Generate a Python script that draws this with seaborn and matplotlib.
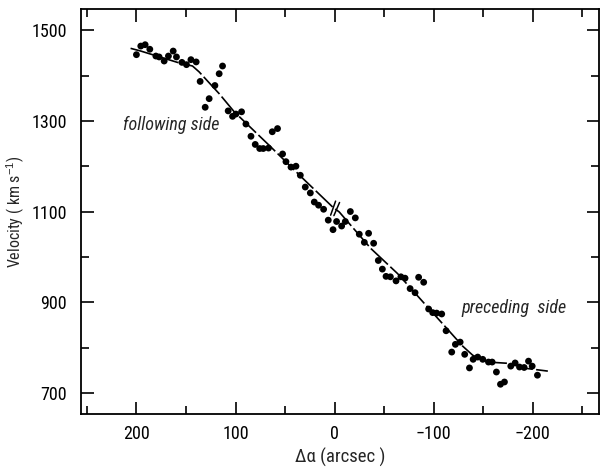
import matplotlib
matplotlib.use("Agg")
import matplotlib.pyplot as plt
import seaborn as sns
import pandas as pd
from matplotlib.ticker import MultipleLocator

# --- data ---
pos_x = [200, 195.6, 191.2, 186.5, 180.4, 177.1, 172, 167.7, 162.9, 159.6,
         154.1, 149.5, 145, 139.7, 135.7, 126.6, 130.6, 120.8, 116.5, 113.1,
         107.4, 103, 99.6, 93.9, 89.5, 84.4, 80.1, 75.6, 72, 66.7,
         62.9, 57.6, 52.5, 49.1, 44, 39, 34.6, 29.6, 24.5, 20.5,
         16.2, 11.1, 6.4, 1.6, -2, -7.1, -10.8, -15.9, -20.9, -24.9,
         -34.3, -30, -39.4, -44.1, -48.2, -51.9, -56.3, -62, -66.9, -71.1,
         -76.2, -81.2, -84.8, -89.9, -94.9, -99, -103, -108.1, -112.5, -121.9,
         -126.7, -118.2, -131.3, -136.1, -139.8, -144.4, -149.5, -155.3, -159, -163.3,
         -167.4, -171.4, -177.8, -182.2, -186.6, -191.3, -195.7, -199.4, -204.7]
velocity = [1446, 1465, 1468, 1458, 1443, 1441, 1432, 1443, 1454, 1441,
            1429, 1424, 1435, 1430, 1387, 1349, 1330, 1378, 1404, 1421,
            1322, 1310, 1315, 1320, 1293, 1266, 1248, 1239, 1239, 1240,
            1276, 1283, 1227, 1210, 1198, 1200, 1180, 1154, 1141, 1121,
            1114, 1105, 1081, 1060, 1078, 1068, 1078, 1100, 1086, 1050,
            1052, 1032, 1030, 992, 973, 957, 956, 947, 956, 953,
            930, 921, 955, 944, 885, 877, 876, 874, 837, 807,
            812, 790, 785, 755, 774, 779, 774, 768, 768, 746,
            719, 724, 759, 766, 757, 756, 770, 759, 739]

curve_x = [205.9, 195.6, 158.6, 143.4, 136.7, 116.5, 101.3, 66, 30.6, 2,
           -4.7, -36.8, -63.6, -92.3, -112.5, -129.3, -139.4, -154.5, -176.5, -193.3, -215.2]
curve_v = [1460, 1454, 1429, 1421, 1408, 1360, 1320, 1246, 1170, 1110,
           1099, 1018, 963, 893, 844, 803, 783, 768, 765, 754, 748]

# break mark "//" on the curve
break1_x = [4, -1]
break1_v = [1092, 1123]
break2_x = [0.7, -5]
break2_v = [1091, 1120]

x_ticks = [200, 100, 0, -100, -200]
y_ticks = [700, 900, 1100, 1300, 1500]

sns.set_theme(style="ticks")
fam = ['DejaVu Sans Condensed', 'Roboto Condensed', 'Liberation Sans Narrow',
       'Liberation Sans', 'DejaVu Sans']
plt.rcParams['font.family'] = fam
plt.rcParams['mathtext.fontset'] = 'custom'
plt.rcParams['mathtext.rm'] = 'Liberation Sans'
plt.rcParams['mathtext.it'] = 'Liberation Sans:italic'

fig = plt.figure(figsize=(6.04, 4.68), dpi=100)
ax = fig.add_axes([0.134, 0.115, 0.858, 0.866])

pts = pd.DataFrame({"x": pos_x, "v": velocity})
crv = pd.DataFrame({"x": curve_x, "v": curve_v})

sns.lineplot(data=crv, x="x", y="v", ax=ax, color="black", lw=1.2,
             sort=False, estimator=None)
ax.lines[-1].set_dashes((14, 2))
sns.scatterplot(data=pts, x="x", y="v", ax=ax, color="black", s=24,
                edgecolor="none", zorder=3)
ax.plot(break1_x, break1_v, color="black", lw=1.1)
ax.plot(break2_x, break2_v, color="black", lw=1.1)

ax.set_xlim(256, -267)
ax.set_ylim(653, 1547)
ax.set_xticks(x_ticks)
ax.set_yticks(y_ticks)
ax.xaxis.set_minor_locator(MultipleLocator(50))
ax.yaxis.set_minor_locator(MultipleLocator(100))
ax.set_xticklabels([str(t).replace('-', '\u2212') for t in x_ticks])
ax.tick_params(which="both", direction="in", top=True, right=True,
               labelsize=13, color="black", labelcolor="black", width=1.2)
ax.tick_params(which="major", length=9)
ax.tick_params(axis="y", which="major", pad=10)
ax.tick_params(axis="x", which="major", pad=8)
ax.tick_params(which="minor", length=6)
for s in ax.spines.values():
    s.set_linewidth(1.3)
    s.set_color("black")

ax.set_xlabel("Δα (arcsec )", fontsize=13.5, labelpad=3)
ax.set_ylabel("Velocity ( km s$^{-1}$)", fontsize=11.5, labelpad=3)

ax.text(165, 1291, "following side", fontsize=13, style="italic",
        ha="center", va="center")
ax.text(-181, 888, "preceding  side", fontsize=13, style="italic",
        ha="center", va="center")

fig.savefig("out.png", dpi=100)
